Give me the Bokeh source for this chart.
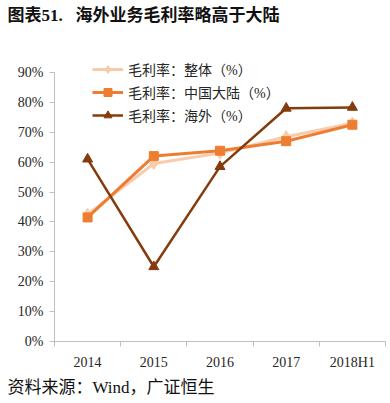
from bokeh.plotting import figure
from bokeh.layouts import column
from bokeh.models import FixedTicker, Label, Range1d, PrintfTickFormatter, Legend, LegendItem
from bokeh.embed import file_html
from bokeh.resources import INLINE

periods = ["2014", "2015", "2016", "2017", "2018H1"]
overall = [42.5, 59.5, 63.0, 68.5, 73.0]
mainland = [41.5, 62.0, 63.8, 67.0, 72.5]
overseas = [61.0, 25.0, 58.5, 78.0, 78.3]
y_ticks = [0, 10, 20, 30, 40, 50, 60, 70, 80, 90]
names = ["毛利率：整体（%）", "毛利率：中国大陆（%）", "毛利率：海外（%）"]
title_text = "图表51.\u00a0\u00a0\u00a0海外业务毛利率略高于大陆"
source_text = "资料来源：Wind，广证恒生"

FONT = "'Liberation Serif', 'Noto Sans CJK SC'"
RULE = "#404040"


def bare(w, h):
    f = figure(width=w, height=h, output_backend="svg", toolbar_location=None,
               x_range=Range1d(0, w), y_range=Range1d(0, h),
               x_axis_type=None, y_axis_type=None, min_border=0,
               min_border_left=0, min_border_right=0, min_border_top=0, min_border_bottom=0)
    f.frame_align = False
    f.outline_line_color = None
    f.grid.visible = False
    return f


def text_strip(h, txt, ty, size, bold):
    f = bare(386, h)
    f.add_layout(Label(x=7, y=ty, text=txt, text_font=FONT, text_font_size=size,
                       text_font_style="bold" if bold else "normal",
                       text_baseline="middle", text_color="#111111"))
    return f


def rule(h):
    r = bare(385, h)
    r.add_layout(Label(x=192, y=1, text="\u00a0", text_font_size="20px",
                       text_align="center", text_baseline="middle",
                       padding=200, background_fill_color=RULE, background_fill_alpha=1,
                       border_line_color=None, text_color=RULE))
    return r


top = text_strip(31, title_text, 16, "17px", True)
rule_top = rule(2)
rule_bottom = rule(2)
bottom = text_strip(29, source_text, 16, "17px", False)

xs = [i + 0.5 for i in range(len(periods))]
bounds = [float(i) for i in range(len(periods) + 1)]

p = figure(width=390, height=339, output_backend="svg", toolbar_location=None,
           x_range=Range1d(0, len(periods)), y_range=Range1d(0, 100),
           min_border_left=54, min_border_right=5, min_border_top=9, min_border_bottom=31)
p.frame_align = False
p.outline_line_color = None
p.grid.visible = False

c1, c2, c3 = "#F8CBAD", "#ED7D31", "#843C0C"
l1 = p.line(xs, overall, line_color=c1, line_width=3)
m1 = p.scatter(xs, overall, marker="diamond", size=12, fill_color=c1, line_color=c1)
l2 = p.line(xs, mainland, line_color=c2, line_width=3)
m2 = p.scatter(xs, mainland, marker="square", size=9, fill_color=c2, line_color=c2)
l3 = p.line(xs, overseas, line_color=c3, line_width=2.5)
m3 = p.scatter(xs, overseas, marker="triangle", size=10, fill_color=c3, line_color=c3)

legend = Legend(items=[LegendItem(label=names[0], renderers=[l1, m1]),
                       LegendItem(label=names[1], renderers=[l2, m2]),
                       LegendItem(label=names[2], renderers=[l3, m3])],
                location=(38, 216), padding=0, spacing=3, margin=0,
                glyph_width=31, glyph_height=20, label_height=20, label_standoff=5,
                border_line_color=None, background_fill_alpha=0,
                label_text_font=FONT, label_text_font_size="14px", label_text_color="#262626")
p.add_layout(legend)

xa = p.xaxis[0]
xa.ticker = FixedTicker(ticks=xs, minor_ticks=bounds)
xa.major_label_overrides = {x: lab for x, lab in zip(xs, periods)}
xa.major_tick_line_color = None
xa.major_tick_out = 0
xa.minor_tick_out = 5
xa.minor_tick_in = 0
xa.minor_tick_line_color = "#BFBFBF"
xa.axis_line_color = "#BFBFBF"
xa.major_label_standoff = 8
xa.major_label_text_font = FONT
xa.major_label_text_font_size = "14px"
xa.major_label_text_color = "#262626"

ya = p.yaxis[0]
ya.ticker = FixedTicker(ticks=y_ticks, minor_ticks=[])
ya.formatter = PrintfTickFormatter(format="%d%%")
ya.bounds = (0, 90)
ya.major_tick_out = 5
ya.major_tick_in = 0
ya.major_tick_line_color = "#BFBFBF"
ya.axis_line_color = "#BFBFBF"
ya.major_label_standoff = 6
ya.major_label_text_font = FONT
ya.major_label_text_font_size = "14px"
ya.major_label_text_color = "#262626"

layout = column(top, rule_top, p, rule_bottom, bottom, spacing=0)
open("out.html", "w").write(file_html(layout, INLINE))
